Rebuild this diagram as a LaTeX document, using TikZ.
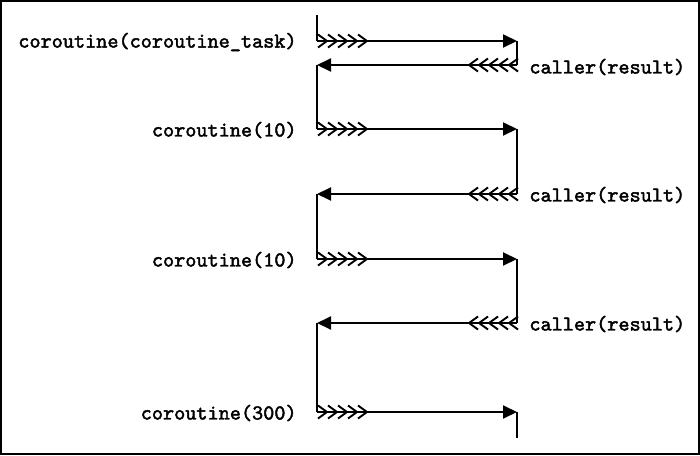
\documentclass[tikz,border=0pt]{standalone}
\usepackage{fontspec}
\newfontfamily\cfont[FakeBold=2]{Latin Modern Mono}
\usetikzlibrary{arrows.meta}
\begin{document}
\begin{tikzpicture}[x=0.5pt,y=-0.5pt,
  flow/.style={line width=0.95pt},
  arr/.style={flow,-{Triangle[length=7pt,width=6.5pt]}},
  lbl/.style={font=\cfont\fontsize{10.6}{12}\selectfont, inner sep=0pt},
  fwd/.pic={\foreach \i in {0,...,4} \draw[flow] (\i*10,-6.5) -- (\i*10+9,0) -- (\i*10,6.5);},
  bwd/.pic={\foreach \i in {0,...,4} \draw[flow] (-\i*10,-6.5) -- (-\i*10-9,0) -- (-\i*10,6.5);}
]
\useasboundingbox (0,0) rectangle (700,455);
\draw[line width=1pt] (1,1) rectangle (699,454);

\coordinate (t0) at (317,15);
\coordinate (a1) at (317,41);  \coordinate (b1) at (517,41);
\coordinate (b2) at (517,65);  \coordinate (a2) at (317,65);
\coordinate (a3) at (317,129); \coordinate (b3) at (517,129);
\coordinate (b4) at (517,194); \coordinate (a4) at (317,194);
\coordinate (a5) at (317,259); \coordinate (b5) at (517,259);
\coordinate (b6) at (517,323); \coordinate (a6) at (317,323);
\coordinate (a7) at (317,412); \coordinate (b7) at (517,412);
\coordinate (e)  at (517,438);

% lifelines
\draw[flow] (t0) -- (a1);
\draw[flow] (b1) -- (b2);
\draw[flow] (a2) -- (a3);
\draw[flow] (b3) -- (b4);
\draw[flow] (a4) -- (a5);
\draw[flow] (b5) -- (b6);
\draw[flow] (a6) -- (a7);
\draw[flow] (b7) -- (e);

% arrows
\draw[arr] (a1) -- (b1);
\draw[arr] (b2) -- (a2);
\draw[arr] (a3) -- (b3);
\draw[arr] (b4) -- (a4);
\draw[arr] (a5) -- (b5);
\draw[arr] (b6) -- (a6);
\draw[arr] (a7) -- (b7);

% feathers
\pic at (318,41) {fwd};
\pic at (318,129) {fwd};
\pic at (318,259) {fwd};
\pic at (318,412) {fwd};
\pic at (518,65) {bwd};
\pic at (518,194) {bwd};
\pic at (518,323) {bwd};

% labels
\node[lbl, anchor=east] (c1) at (297,42) {coroutine(coroutine\_task)};
\node[lbl, anchor=east] (c2) at (297,130) {coroutine(10)};
\node[lbl, anchor=east] (c3) at (297,260) {coroutine(10)};
\node[lbl, anchor=east] (c4) at (297,413) {coroutine(300)};
\node[lbl, anchor=west] (r1) at (529,67) {caller(result)};
\node[lbl, anchor=west] (r2) at (529,195) {caller(result)};
\node[lbl, anchor=west] (r3) at (529,324) {caller(result)};
\end{tikzpicture}
\end{document}
